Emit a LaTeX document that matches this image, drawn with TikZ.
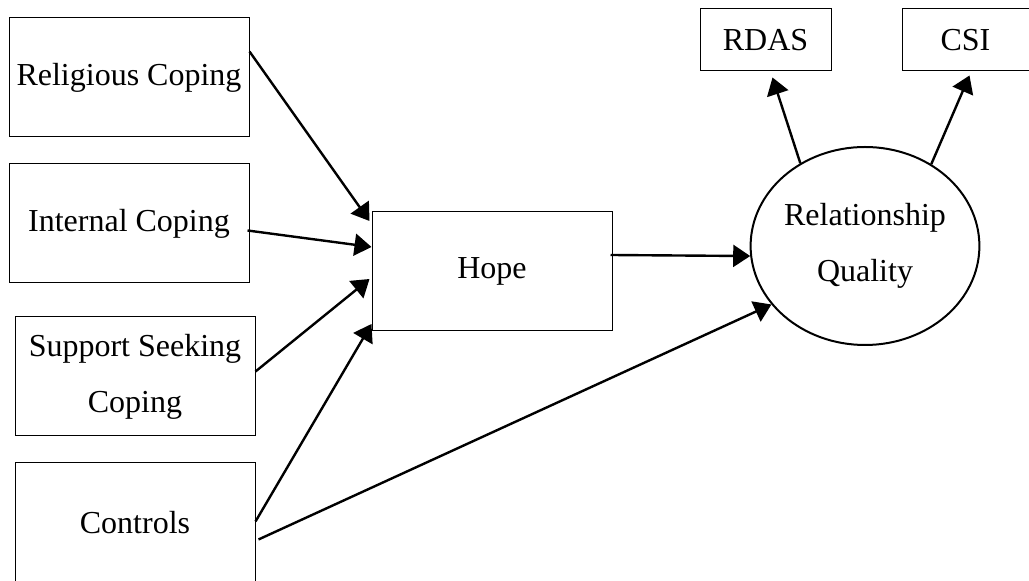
\documentclass[tikz,border=0pt]{standalone}
\usepackage{fontspec}
\setmainfont{Liberation Serif}
\usetikzlibrary{shapes.geometric,arrows.meta,calc}

\begin{document}
\begin{tikzpicture}[x=0.5pt, y=-0.5pt, >={Triangle[length=8.5pt,width=11pt]},
    box/.style={draw, line width=0.5pt, inner sep=0pt, align=center,
        minimum width=120pt, minimum height=59.5pt},
    small/.style={draw, line width=0.5pt, inner sep=0pt,
        minimum height=31pt},
    latent/.style={draw, ellipse, line width=1pt, inner sep=0pt, align=center,
        minimum width=111pt, minimum height=99pt},
    arr/.style={->, line width=1.2pt},
    font=\fontsize{16}{28}\selectfont]
    \useasboundingbox (0,0) rectangle (1029,581);

    % 左侧的四个自变量
    \node[box] (rel) at (129,77.5) {Religious Coping};
    \node[box] (int) at (129,223.5) {Internal Coping};
    \node[box] (sup) at (135,376.5) {Support Seeking\\Coping};
    \node[box] (ctl) at (135,522.5) {Controls};

    % 中介变量和潜变量
    \node[box] (hope) at (492,271) {Hope};
    \node[latent] (rq) at (865,246) {Relationship\\Quality};

    % 指标
    \node[small, minimum width=65.5pt] (rdas) at (765.5,40) {RDAS};
    \node[small, minimum width=63.5pt] (csi) at (965.5,40) {CSI};

    % 路径
    \draw[arr] ($(rel.north east)+(0,34)$) -- ($(hope.north west)+(-2,10)$);
    \draw[arr] ($(int.north east)+(-2,67)$) -- ($(hope.north west)+(0,36)$);
    \draw[arr] ($(sup.north east)+(0,55)$) -- ($(hope.north west)+(-2,68)$);
    \draw[arr] ($(ctl.north east)+(0,59)$) -- ($(hope.south west)+(0,-7)$);
    \draw[arr] ($(ctl.north east)+(3,77)$) -- (rq.212);
    \draw[arr] ($(hope.north east)+(-2,44)$) -- (rq.185);
    \draw[arr] (rq.128) -- ($(rdas.south)+(7,6)$);
    \draw[arr] (rq.51) -- ($(csi.south)+(4,4)$);
\end{tikzpicture}
\end{document}
